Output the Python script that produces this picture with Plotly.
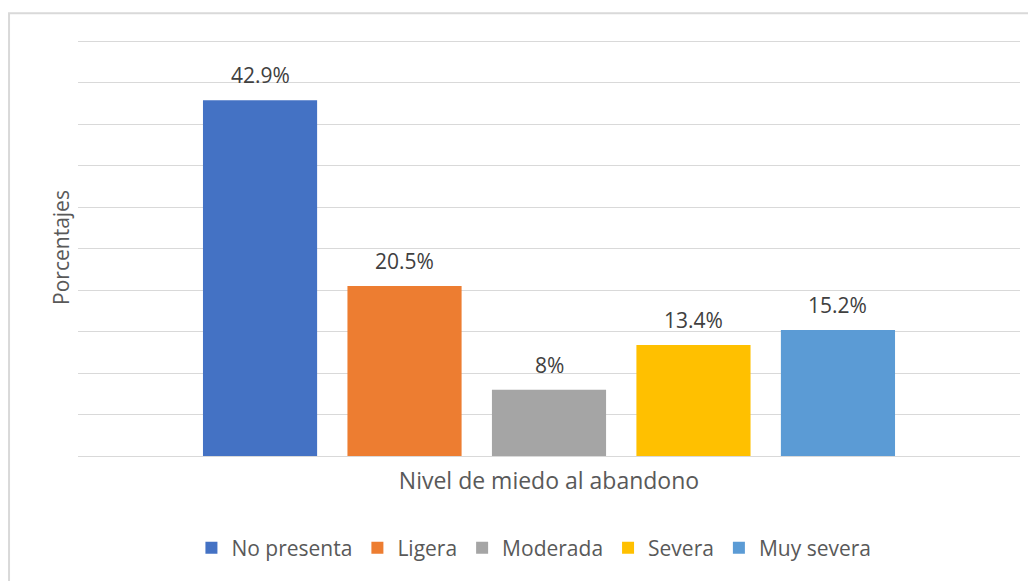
import plotly.graph_objects as go

niveles = ["No presenta", "Ligera", "Moderada", "Severa", "Muy severa"]
porcentajes = [42.9, 20.5, 8, 13.4, 15.2]
etiquetas = ["42.9%", "20.5%", "8%", "13.4%", "15.2%"]
colores = ["#4472C4", "#ED7D31", "#A5A5A5", "#FFC000", "#5B9BD5"]

FONT = "'Open Sans', 'Noto Sans', sans-serif"

fig = go.Figure()
for nivel, valor, color in zip(niveles, porcentajes, colores):
    fig.add_trace(go.Bar(
        x=[nivel],
        y=[valor],
        name=nivel,
        marker=dict(color=color, line=dict(width=0)),
        width=0.79,
    ))

# etiquetas de datos sobre cada barra
for nivel, valor, texto in zip(niveles, porcentajes, etiquetas):
    fig.add_annotation(
        x=nivel, y=valor, text=texto, showarrow=False,
        yanchor="bottom", yshift=9,
        font=dict(family=FONT, size=21, color="#404040"),
    )

# borde del grafico
fig.add_shape(
    type="rect", xref="paper", yref="paper",
    x0=-0.0732, x1=1.2, y0=-0.5, y1=1.062,
    line=dict(color="#D9D9D9", width=2), layer="below",
)

# la pagina tiene 8px de margen en body, se compensa
fig.update_layout(
    width=1028, height=573,
    margin=dict(l=70, r=16, t=31, b=123),
    paper_bgcolor="white", plot_bgcolor="white",
    barmode="overlay",
    font=dict(family=FONT, size=21, color="#595959"),
    showlegend=True,
    legend=dict(
        orientation="h", x=0.484, xanchor="center", y=-0.221, yanchor="middle",
        font=dict(family=FONT, size=21, color="#595959"),
        itemwidth=30, tracegroupgap=0,
    ),
    xaxis=dict(
        type="category", range=[-1.26, 5.26],
        showticklabels=False, showgrid=False, zeroline=False, showline=False,
        title=dict(text="Nivel de miedo al abandono", standoff=16,
                   font=dict(family=FONT, size=23, color="#595959")),
    ),
    yaxis=dict(
        range=[0, 50.3], dtick=5, showticklabels=False,
        showgrid=True, gridcolor="#D9D9D9", gridwidth=1,
        zeroline=True, zerolinecolor="#D9D9D9", zerolinewidth=1,
        title=dict(text="Porcentajes", standoff=1,
                   font=dict(family=FONT, size=21, color="#595959")),
    ),
)

fig.write_html("out.html")
